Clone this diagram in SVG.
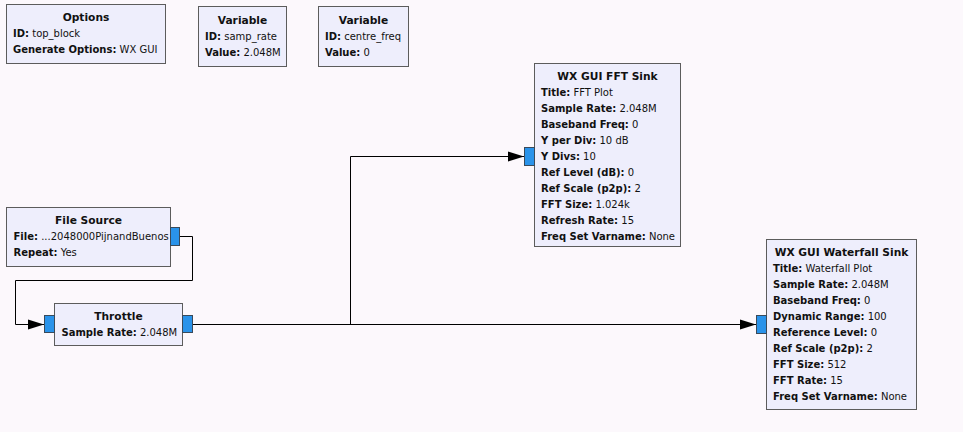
<svg xmlns="http://www.w3.org/2000/svg" width="963" height="432" viewBox="0 0 963 432">
<style>
.blk{fill:#eeeefc;stroke:#5c5c5c;stroke-width:1}
.port{fill:#2a93ea;stroke:#3a4a5a;stroke-width:1}
text{font-family:"DejaVu Sans",sans-serif;font-size:10px;fill:#111}
.t{font-weight:bold;text-anchor:middle;font-size:10.67px}
.b{font-weight:bold}
.w{stroke:#000;stroke-width:1;fill:none}
</style>
<defs>
<marker id="ah" markerUnits="userSpaceOnUse" markerWidth="18" markerHeight="12" refX="17" refY="6" orient="auto">
<path d="M1,1 L17,6 L1,11 Z" fill="#000"/>
</marker>
</defs>
<rect width="963" height="432" fill="#fcf8fc"/>
<g id="connectors">
<path class="w" d="M180,236.5 H192.5 V280.5 H15.5 V324.5 H44" marker-end="url(#ah)"/>
<path class="w" d="M192,324.5 H756" marker-end="url(#ah)"/>
<path class="w" d="M350.5,324.5 V156.5 H524" marker-end="url(#ah)"/>
</g>
<g id="options">
<rect class="blk" x="6.5" y="4.5" width="159" height="59"/>
<text class="t" x="86" y="21">Options</text>
<text x="13" y="37"><tspan class="b">ID:</tspan> top_block</text>
<text x="13" y="53"><tspan class="b">Generate Options:</tspan> WX GUI</text>
</g>
<g id="var_samp_rate">
<rect class="blk" x="198.5" y="6.5" width="88" height="60"/>
<text class="t" x="242.5" y="24">Variable</text>
<text x="205" y="40"><tspan class="b">ID:</tspan> samp_rate</text>
<text x="205" y="56"><tspan class="b">Value:</tspan> 2.048M</text>
</g>
<g id="var_centre_freq">
<rect class="blk" x="318.5" y="6.5" width="90" height="60"/>
<text class="t" x="363.5" y="24">Variable</text>
<text x="325" y="40"><tspan class="b">ID:</tspan> centre_freq</text>
<text x="325" y="56"><tspan class="b">Value:</tspan> 0</text>
</g>
<g id="file_source">
<rect class="blk" x="6.5" y="207.5" width="164" height="59"/>
<rect class="port" x="170.5" y="227.5" width="9" height="18"/>
<text class="t" x="88.5" y="224">File Source</text>
<text x="13.5" y="240"><tspan class="b">File:</tspan> ...2048000PijnandBuenos</text>
<text x="13.5" y="256"><tspan class="b">Repeat:</tspan> Yes</text>
</g>
<g id="throttle">
<rect class="blk" x="54.5" y="303.5" width="128" height="42"/>
<rect class="port" x="44.5" y="315.5" width="10" height="17"/>
<rect class="port" x="182.5" y="315.5" width="10" height="17"/>
<text class="t" x="118.5" y="320">Throttle</text>
<text x="61.5" y="336"><tspan class="b">Sample Rate:</tspan> 2.048M</text>
</g>
<g id="fft_sink">
<rect class="blk" x="534.5" y="63.5" width="146" height="183"/>
<rect class="port" x="524.5" y="147.5" width="10" height="18"/>
<text class="t" x="607.5" y="80">WX GUI FFT Sink</text>
<text x="541" y="96"><tspan class="b">Title:</tspan> FFT Plot</text>
<text x="541" y="112"><tspan class="b">Sample Rate:</tspan> 2.048M</text>
<text x="541" y="128"><tspan class="b">Baseband Freq:</tspan> 0</text>
<text x="541" y="144"><tspan class="b">Y per Div:</tspan> 10 dB</text>
<text x="541" y="160"><tspan class="b">Y Divs:</tspan> 10</text>
<text x="541" y="176"><tspan class="b">Ref Level (dB):</tspan> 0</text>
<text x="541" y="192"><tspan class="b">Ref Scale (p2p):</tspan> 2</text>
<text x="541" y="208"><tspan class="b">FFT Size:</tspan> 1.024k</text>
<text x="541" y="224"><tspan class="b">Refresh Rate:</tspan> 15</text>
<text x="541" y="240"><tspan class="b">Freq Set Varname:</tspan> None</text>
</g>
<g id="waterfall_sink">
<rect class="blk" x="766.5" y="239.5" width="150" height="170"/>
<rect class="port" x="756.5" y="315.5" width="10" height="18"/>
<text class="t" x="841.5" y="256">WX GUI Waterfall Sink</text>
<text x="773" y="272"><tspan class="b">Title:</tspan> Waterfall Plot</text>
<text x="773" y="288"><tspan class="b">Sample Rate:</tspan> 2.048M</text>
<text x="773" y="304"><tspan class="b">Baseband Freq:</tspan> 0</text>
<text x="773" y="320"><tspan class="b">Dynamic Range:</tspan> 100</text>
<text x="773" y="336"><tspan class="b">Reference Level:</tspan> 0</text>
<text x="773" y="352"><tspan class="b">Ref Scale (p2p):</tspan> 2</text>
<text x="773" y="368"><tspan class="b">FFT Size:</tspan> 512</text>
<text x="773" y="384"><tspan class="b">FFT Rate:</tspan> 15</text>
<text x="773" y="400"><tspan class="b">Freq Set Varname:</tspan> None</text>
</g>
</svg>
